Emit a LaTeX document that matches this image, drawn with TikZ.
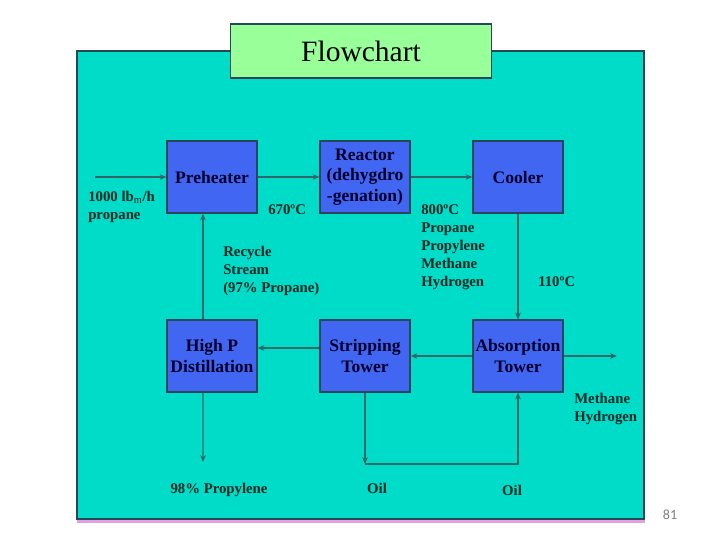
\documentclass[tikz,border=0pt]{standalone}
\usepackage{fontspec}
\setmainfont{Liberation Serif}
\newfontfamily\pagenumfont{Carlito}
\usepackage{xcolor}
\usepackage{tikz}
\usetikzlibrary{arrows.meta,positioning}
\definecolor{slideteal}{RGB}{0,220,200}
\definecolor{titlegreen}{RGB}{153,255,153}
\definecolor{unitblue}{RGB}{64,102,242}
\definecolor{unitedge}{RGB}{40,70,90}
\definecolor{unittext}{RGB}{0,0,45}
\definecolor{labeltext}{RGB}{8,40,34}
\definecolor{flowline}{RGB}{45,105,105}
\definecolor{edgepink}{RGB}{225,160,225}

\begin{document}
\begin{tikzpicture}[x=0.025cm,y=-0.025cm,
    unit/.style={draw=unitedge, line width=0.8pt, fill=unitblue, text=unittext,
      minimum width=2.25cm, minimum height=1.8cm, align=center, inner sep=1pt,
      font=\fontsize{12.5}{14.5}\selectfont\bfseries},
    stream/.style={text=labeltext, align=left, inner sep=0pt,
      font=\fontsize{10.5}{12.8}\selectfont\bfseries},
    flow/.style={draw=flowline, line width=0.85pt, -{Stealth[length=1.7mm,width=1.4mm]}}]
  \useasboundingbox (0,0) rectangle (720,540);
  % slide background and title
  \fill[edgepink] (77,519) rectangle (645,523);
  \draw[unitedge, line width=0.9pt, fill=slideteal] (77,51) rectangle (644,519);
  \node[draw=unitedge, line width=0.8pt, fill=titlegreen, minimum width=6.525cm,
    minimum height=1.35cm, font=\fontsize{21}{24}\selectfont] (title) at (361,51) {Flowchart};
  % process units
  \node[unit] (pre) at (212,177) {Preheater};
  \node[unit] (reac) at (365,177) {Reactor\\(dehygdro\\-genation)};
  \node[unit] (cool) at (518,177) {Cooler};
  \node[unit] (hp) at (212,356) {High P\\Distillation};
  \node[unit] (strip) at (365,356) {Stripping\\Tower};
  \node[unit] (abs) at (518,356) {Absorption\\Tower};
  % free ends of the streams
  \coordinate (feed) at (95,177);
  \coordinate (prod) at (203,462);
  \coordinate (oilc) at (365,464);
  \coordinate (gas) at (617,356);
  % streams
  \draw[flow] (feed) -- (pre);
  \draw[flow] (pre) -- (reac);
  \draw[flow] (reac) -- (cool);
  \draw[flow] (cool) -- (abs);
  \draw[flow] (abs) -- (strip);
  \draw[flow] ([yshift=0.2cm]strip.west) -- ([yshift=0.2cm]hp.east);
  \draw[flow] ([xshift=-0.225cm]hp.north) -- ([xshift=-0.225cm]pre.south);
  \draw[flow] ([xshift=-0.225cm]hp.south) -- (prod);
  \draw[flow] (strip) -- (oilc);
  \draw[flow] (oilc) -| (abs);
  \draw[flow] (abs) -- (gas);
  % stream labels
  \node[stream, anchor=west] (feedlbl) at (88,207) {1000 lb$_{\mathrm{m}}$/h\\propane};
  \node[stream, anchor=west] (t670) at (268,210) {670ºC};
  \node[stream, anchor=north west] (recy) at (223,246) {Recycle\\Stream\\(97\% Propane)};
  \node[stream, anchor=north west] (hot) at (421,204) {800ºC\\Propane\\Propylene\\Methane\\Hydrogen};
  \node[stream, anchor=west] (t110) at (538,282) {110ºC};
  \node[stream, anchor=north west] (offgas) at (574,393) {Methane\\Hydrogen};
  \node[stream] (prodlbl) at (219,490) {98\% Propylene};
  \node[stream] (oil1) at (377,488) {Oil};
  \node[stream] (oil2) at (512,490) {Oil};
  \node[text=gray, font=\pagenumfont\fontsize{10}{12}\selectfont] (pagenum) at (670,515) {81};
\end{tikzpicture}
\end{document}
